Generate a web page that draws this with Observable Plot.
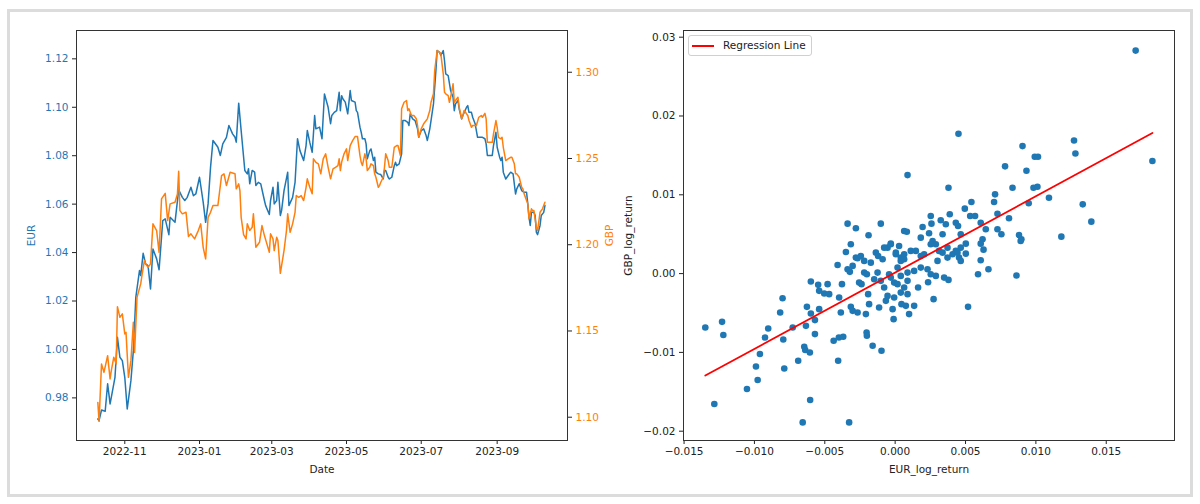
<!DOCTYPE html>
<html><head><meta charset="utf-8">
<script src="https://cdn.jsdelivr.net/npm/d3@7"></script>
<script src="https://cdn.jsdelivr.net/npm/@observablehq/plot@0.6"></script>
<style>
html,body{margin:0;padding:0;background:#fff;}
#root{position:relative;width:1200px;height:504px;overflow:hidden;font-family:"DejaVu Sans",sans-serif;background:#fff;}
#border{position:absolute;left:7px;top:9px;width:1180px;height:482px;border:3px solid #dcdcdc;}
.panel{position:absolute;top:0;}
.panel svg{position:absolute;left:0;top:0;background:transparent;}
#legend{position:absolute;left:688px;top:35px;width:122px;height:19px;border:1px solid #d0d0d0;border-radius:3px;background:rgba(255,255,255,0.8);font-size:10.5px;color:#222;}
#legend .ln{position:absolute;left:3px;top:9px;width:22px;height:2px;background:red;}
#legend .tx{position:absolute;left:34px;top:3px;white-space:nowrap;}
</style></head><body>
<div id="root">
  <div id="border"></div>
  <div class="panel" id="left" style="left:0;width:620px;height:504px;"></div>
  <div class="panel" id="right" style="left:620px;width:580px;height:504px;"></div>
  <div id="legend"><div class="ln"></div><div class="tx">Regression Line</div></div>
</div>
<script>
// ---- Left panel data: days since 2022-10-10 and exchange rates ----
const startDateISO = "2022-10-10";
const eurDays = [0,1,3,6,8,10,11,14,16,18,20,22,24,27,29,31,34,35,37,39,41,43,45,48,50,53,55,58,59,63,66,69,71,73,76,78,80,83,86,88,90,92,94,97,98,100,102,105,107,110,112,113,115,117,120,122,123,124,126,128,129,131,133,136,137,140,141,143,144,146,147,149,150,152,155,156,159,161,163,165,168,170,171,173,175,177,178,181,183,185,188,190,191,193,195,197,198,199,200,202,204,206,207,210,211,212,214,215,216,218,219,220,222,223,225,226,227,229,231,233,234,235,237,238,240,242,243,244,246,248,249,251,253,254,255,257,259,261,262,264,266,268,269,271,272,274,276,277,279,280,282,283,284,286,288,290,291,292,294,295,297,298,301,302,303,305,306,308,310,312,314,316,317,318,320,322,323,325,326,328,329,330,331,333,335,337,339,341,342,344,346,348,350,351,352,353,354,356,357,358,359,361,362,364,365];
const eurRates = [0.9713,0.9706,0.9750,0.9745,0.9858,0.9775,0.9802,0.9885,1.0050,0.9968,0.9954,0.9885,0.9754,0.9871,0.9995,1.0215,1.0326,1.0305,1.0397,1.0353,1.0346,1.0250,1.0415,1.0374,1.0329,1.0532,1.0539,1.0474,1.0546,1.0525,1.0659,1.0628,1.0615,1.0628,1.0670,1.0635,1.0642,1.0711,1.0608,1.0525,1.0601,1.0752,1.0863,1.0842,1.0835,1.0801,1.0849,1.0876,1.0925,1.0890,1.0876,1.0856,1.1017,1.0904,1.0739,1.0725,1.0746,1.0684,1.0739,1.0732,1.0677,1.0690,1.0684,1.0615,1.0594,1.0557,1.0615,1.0670,1.0601,1.0615,1.0690,1.0553,1.0573,1.0656,1.0732,1.0594,1.0628,1.0690,1.0870,1.0821,1.0780,1.0842,1.0904,1.0856,1.0814,1.0966,1.0911,1.0918,1.0870,1.1055,1.1000,1.0932,1.0966,1.0979,1.0986,1.1062,1.0986,1.1048,1.1035,1.1021,1.0973,1.1069,1.1028,1.1021,1.0986,1.0979,1.0918,1.0897,1.0870,1.0870,1.0849,1.0787,1.0821,1.0828,1.0780,1.0794,1.0732,1.0725,1.0722,1.0704,1.0739,1.0739,1.0711,1.0704,1.0711,1.0759,1.0773,1.0759,1.0766,1.0808,1.0945,1.0945,1.0938,1.0925,1.0973,1.0952,1.0945,1.0911,1.0876,1.0904,1.0911,1.0883,1.0863,1.0911,1.0945,1.1014,1.1152,1.1234,1.1227,1.1214,1.1234,1.1193,1.1138,1.1131,1.1069,1.1041,1.0986,1.1014,1.1028,1.0993,1.0952,1.0966,1.1000,1.1007,1.0979,1.0979,1.0959,1.0932,1.0876,1.0876,1.0876,1.0870,1.0849,1.0801,1.0801,1.0801,1.0842,1.0897,1.0835,1.0794,1.0780,1.0794,1.0732,1.0704,1.0718,1.0732,1.0725,1.0642,1.0663,1.0684,1.0656,1.0649,1.0649,1.0601,1.0546,1.0512,1.0566,1.0566,1.0553,1.0484,1.0474,1.0512,1.0553,1.0566,1.0594];
const gbpDays = [0,1,3,5,8,10,11,13,15,16,18,20,22,23,25,27,29,30,32,35,36,38,39,41,43,45,48,50,52,55,57,59,63,65,66,67,69,72,74,76,79,82,84,86,88,90,92,94,98,101,103,105,108,112,113,115,116,117,119,121,122,124,126,127,129,132,134,136,138,140,141,143,144,146,147,149,152,154,155,157,159,161,162,164,166,168,170,171,173,175,176,178,180,182,184,186,188,190,192,194,196,197,198,199,201,203,204,206,208,210,212,214,215,216,218,219,220,222,223,225,226,227,229,230,231,233,234,235,237,238,240,242,244,245,247,248,250,252,253,254,256,258,260,261,262,264,266,268,269,271,272,274,275,277,279,280,282,283,284,286,287,288,290,291,292,294,295,297,298,299,301,302,303,305,306,309,311,313,314,316,317,318,320,322,323,325,326,327,329,330,331,333,335,337,338,340,341,342,344,346,347,348,350,351,352,354,355,356,358,359,361,363,364,365];
const gbpRates = [1.1086,1.0976,1.1309,1.1260,1.1357,1.1222,1.1270,1.1347,1.1309,1.1641,1.1579,1.1599,1.1483,1.1492,1.1231,1.1328,1.1550,1.1376,1.1695,1.1773,1.1821,1.1908,1.1889,1.1869,1.1889,1.2121,1.2082,1.1956,1.2266,1.2298,1.2140,1.2237,1.2246,1.2295,1.2426,1.2198,1.2179,1.2188,1.2047,1.2063,1.2034,1.2082,1.2121,1.1985,1.1918,1.2159,1.2188,1.2227,1.2227,1.2401,1.2411,1.2343,1.2420,1.2411,1.2324,1.2353,1.2314,1.2159,1.2059,1.2034,1.2121,1.2082,1.2101,1.2179,1.1985,1.2014,1.2111,1.2053,1.2005,1.1956,1.2063,1.2034,1.1966,1.2043,1.2024,1.1834,1.1966,1.2082,1.2179,1.2072,1.2121,1.2188,1.2285,1.2275,1.2285,1.2256,1.2333,1.2382,1.2333,1.2295,1.2498,1.2478,1.2469,1.2411,1.2498,1.2527,1.2449,1.2382,1.2440,1.2449,1.2459,1.2498,1.2430,1.2478,1.2527,1.2556,1.2488,1.2575,1.2604,1.2627,1.2627,1.2517,1.2478,1.2459,1.2527,1.2498,1.2430,1.2449,1.2469,1.2459,1.2411,1.2391,1.2333,1.2343,1.2362,1.2391,1.2449,1.2527,1.2488,1.2449,1.2449,1.2565,1.2575,1.2575,1.2517,1.2788,1.2826,1.2836,1.2778,1.2788,1.2749,1.2749,1.2730,1.2691,1.2623,1.2672,1.2701,1.2720,1.2730,1.2778,1.2826,1.2875,1.3010,1.3126,1.3116,1.3107,1.2991,1.2884,1.2875,1.2865,1.2826,1.2855,1.2933,1.2826,1.2836,1.2855,1.2797,1.2730,1.2749,1.2778,1.2759,1.2749,1.2720,1.2681,1.2691,1.2691,1.2739,1.2749,1.2739,1.2762,1.2730,1.2594,1.2594,1.2594,1.2643,1.2720,1.2681,1.2623,1.2614,1.2623,1.2565,1.2488,1.2498,1.2507,1.2507,1.2469,1.2411,1.2411,1.2391,1.2333,1.2324,1.2295,1.2256,1.2237,1.2150,1.2208,1.2198,1.2198,1.2101,1.2082,1.2188,1.2208,1.2227,1.2246];
const dateTickLabels = ["2022-11","2023-01","2023-03","2023-05","2023-07","2023-09"];
const eurTicks = [0.98,1.00,1.02,1.04,1.06,1.08,1.10,1.12];
const gbpTicks = [1.10,1.15,1.20,1.25,1.30];

// ---- Right panel data: daily log returns ----
const eurLogReturn = [0.01709,0.0045,0.01271,0.01281,0.00905,0.00992,0.01015,0.00781,0.00933,0.01828,0.00088,0.00379,0.00834,0.00983,0.01011,0.0071,0.00703,0.00542,0.00949,0.01093,0.01333,0.00495,0.01394,0.00253,0.00388,0.00533,0.00568,0.00727,0.00809,0.00324,0.0036,0.00431,0.00447,0.00258,0.00195,0.00608,0.00644,0.00727,0.00755,0.0088,0.00897,0.01181,0.00064,0.00083,-0.00102,0.00337,0.00241,0.00182,0.00466,0.00502,0.00621,0.00608,0.00628,-0.00031,-0.01349,-0.01285,-0.0123,-0.01221,-0.01053,-0.00989,-0.00977,-0.00961,-0.00925,-0.00902,-0.00817,-0.008,-0.00795,-0.00788,-0.00728,-0.00689,-0.00657,-0.00646,-0.00639,-0.00634,-0.00627,-0.00606,-0.00604,-0.00599,-0.00599,-0.0057,-0.0057,-0.00547,-0.0054,-0.0054,-0.00504,-0.0048,-0.00469,-0.00437,-0.00409,-0.00405,-0.004,-0.00398,-0.00386,-0.00378,-0.00369,-0.0035,-0.00338,-0.00322,-0.00327,-0.00315,-0.00302,-0.00279,-0.00267,-0.00267,-0.00256,-0.00239,-0.00244,-0.0022,-0.00201,-0.00208,-0.00203,-0.00201,-0.00192,-0.00185,-0.0016,-0.00137,-0.00121,-0.00125,-0.00114,-0.00097,-0.00089,-0.00078,-0.00066,-0.00054,-0.00031,-0.00018,-0.00011,0.00005,0.00017,0.00028,0.0004,0.00064,0.00076,0.00088,0.00099,0.00045,0.00135,0.00273,0.00379,0.00518,0.00589,0.00663,0.00862,0.00234,0.00289,0.00163,0.00608,0.00502,0.00892,-0.00338,-0.00279,-0.00189,
  -0.00078,0.00005,0.0004,0.00111,0.00147,0.00206,0.00266,0.00289,0.00312,0.00372,0.00408,0.00431,0.00454,0.00466,-0.00315,-0.00302,-0.0022,-0.00173,-0.00149,-0.00102,-0.00043,-0.00007,0.0004,0.00064,0.00088,0.00253,0.00337,0.00443,0.00064,0.00182,0.00301,0.00372,0.00466,-0.00031,0.00088,0.00135,0.00182,0.00253,0.00348,0.00017,-0.00054,-0.00007,0.0004,0.0023];
const gbpLogReturn = [0.0283,0.01774,0.0169,0.01525,0.01618,0.01482,0.01482,0.01361,0.01305,0.01428,0.0125,0.0109,0.0109,0.0109,0.01102,0.01006,0.00908,0.00908,0.00892,0.00963,0.00879,0.00824,0.00659,0.00731,0.00753,0.00731,0.00731,0.0076,0.00702,0.00677,0.00626,0.00646,0.00604,0.00634,0.00592,0.00646,0.00563,0.00563,0.00499,0.0049,0.00436,0.00469,0.00541,0.00532,0.00634,0.00499,0.00512,0.00456,0.00499,0.0038,0.00436,0.0038,0.00304,0.0038,-0.00684,-0.01655,-0.00612,-0.0078,-0.01465,-0.01178,-0.01351,-0.01021,-0.00811,-0.00697,-0.00494,-0.00312,-0.00836,-0.01204,-0.00684,-0.01106,-0.01888,-0.00929,-0.0097,-0.00663,-0.00422,-0.01001,-0.01604,-0.00101,-0.00507,-0.0059,-0.00768,-0.00143,-0.00219,-0.00451,-0.00253,-0.00134,-0.00261,-0.00853,0.0011,-0.01106,-0.00811,-0.00304,-0.00494,-0.00134,-0.00802,0.00275,0.00056,0.00022,-0.01888,-0.00422,-0.00473,0.00203,0.00195,-0.00494,-0.00114,-0.00134,0.00224,0.00013,-0.00008,-0.00514,-0.00748,-0.00789,-0.00261,-0.00388,-0.00916,0.00266,0.00224,0.00013,-0.00431,-0.00979,0.00182,-0.00177,-0.00346,0.00329,0.00372,-0.00451,-0.00578,0.00246,0.00076,0.00351,-0.00029,-0.00177,-0.00409,-0.00261,-0.00514,-0.00388,-0.00409,-0.00324,-0.0008,-0.00422,-0.00008,0.00056,-0.00025,-0.00109,-0.00029,-0.00177,0.0017,0.00253,0.00414,0.00634,0.00575,0.00487,
  0.00329,0.00266,0.00203,0.00288,0.00288,0.00246,0.00414,0.00372,0.00288,0.00329,0.00246,0.00288,0.00203,0.00329,0.00372,0.00098,0.00161,0.00139,-0.00071,-0.00092,-0.00008,-0.00114,0.00161,0.00246,0.00013,0.00372,0.00266,0.00266,0.00182,0.00224,0.00161,0.00203,0.00161,-0.00051,-0.00092,0.00034,0.00076,-0.00008,-0.00051,-0.00134,-0.00283,-0.00304,-0.00241,0.00056];
const regressionSlope = 0.969;
const regressionIntercept = 0.00013;
const eurReturnTicks = [-0.015,-0.010,-0.005,0.000,0.005,0.010,0.015];
const gbpReturnTicks = [-0.02,-0.01,0.00,0.01,0.02,0.03];

// ---- build ----
const start = d3.utcParse("%Y-%m-%d")(startDateISO);
const toDate = d => d3.utcDay.offset(start, d);
const eurSeries = eurDays.map((d, i) => ({date: toDate(d), value: eurRates[i]}));
const gbpSeries = gbpDays.map((d, i) => ({date: toDate(d), value: gbpRates[i]}));
const dateTicks = dateTickLabels.map(s => d3.utcParse("%Y-%m")(s));
const xDomain = [new Date(Date.UTC(2022, 8, 22, 14)), new Date(Date.UTC(2023, 9, 28, 10))];
const minus = s => s.replace("-", "\u2212");
const FS = 10.5;

const style = {fontFamily: "DejaVu Sans", fontSize: FS + "px", background: "transparent", overflow: "visible", color: "#222"};
const common = {width: 620, height: 504, marginLeft: 76, marginRight: 53, marginTop: 30, marginBottom: 64, style};

const p1 = Plot.plot({
  ...common,
  x: {type: "utc", domain: xDomain},
  y: {domain: [0.9624, 1.1317]},
  marks: [
    Plot.axisX({ticks: dateTicks, tickFormat: d3.utcFormat("%Y-%m"), tickSize: 4, tickPadding: 3, stroke: "#222", fill: "#222", label: "Date", labelAnchor: "center", labelOffset: 32, labelArrow: "none", fontSize: FS}),
    Plot.axisY({anchor: "left", ticks: eurTicks, tickFormat: d => d.toFixed(2), tickSize: 4, tickPadding: 4, stroke: "#222", fill: "#1f77b4", label: "EUR", labelAnchor: "center", labelOffset: 49, labelArrow: "none", fontSize: FS}),
    Plot.line(eurSeries, {x: "date", y: "value", stroke: "#1f77b4", strokeWidth: 1.5}),
    Plot.frame({stroke: "#333"})
  ]
});
const p2 = Plot.plot({
  ...common,
  x: {type: "utc", domain: xDomain, axis: null},
  y: {domain: [1.0865, 1.3242]},
  marks: [
    Plot.axisY({anchor: "right", ticks: gbpTicks, tickFormat: d => d.toFixed(2), tickSize: 4, tickPadding: 4, stroke: "#222", fill: "#ff7f0e", label: "GBP", labelAnchor: "center", labelOffset: 45, labelArrow: "none", fontSize: FS}),
    Plot.line(gbpSeries, {x: "date", y: "value", stroke: "#ff7f0e", strokeWidth: 1.5})
  ]
});
document.getElementById("left").append(p1, p2);

const returns = eurLogReturn.map((x, i) => ({x, y: gbpLogReturn[i]}));
const [xmin, xmax] = d3.extent(eurLogReturn);
const reg = [xmin, xmax].map(x => ({x, y: regressionIntercept + regressionSlope * x}));

const p3 = Plot.plot({
  width: 580, height: 504, marginLeft: 63, marginRight: 26, marginTop: 30, marginBottom: 64, style,
  x: {domain: [-0.01504, 0.01985]},
  y: {domain: [-0.02118, 0.03085]},
  marks: [
    Plot.axisX({ticks: eurReturnTicks, tickFormat: d => minus(d.toFixed(3)), tickSize: 4, tickPadding: 3, stroke: "#222", fill: "#222", label: "EUR_log_return", labelAnchor: "center", labelOffset: 32, labelArrow: "none", fontSize: FS}),
    Plot.axisY({ticks: gbpReturnTicks, tickFormat: d => minus(d.toFixed(2)), tickSize: 4, tickPadding: 4, stroke: "#222", fill: "#222", label: "GBP_log_return", labelAnchor: "center", labelOffset: 59, labelArrow: "none", fontSize: FS}),
    Plot.dot(returns, {x: "x", y: "y", r: 3.3, fill: "#1f77b4", stroke: null}),
    Plot.line(reg, {x: "x", y: "y", stroke: "red", strokeWidth: 1.8}),
    Plot.frame({stroke: "#333"})
  ]
});
document.getElementById("right").append(p3);
</script>
</body></html>
